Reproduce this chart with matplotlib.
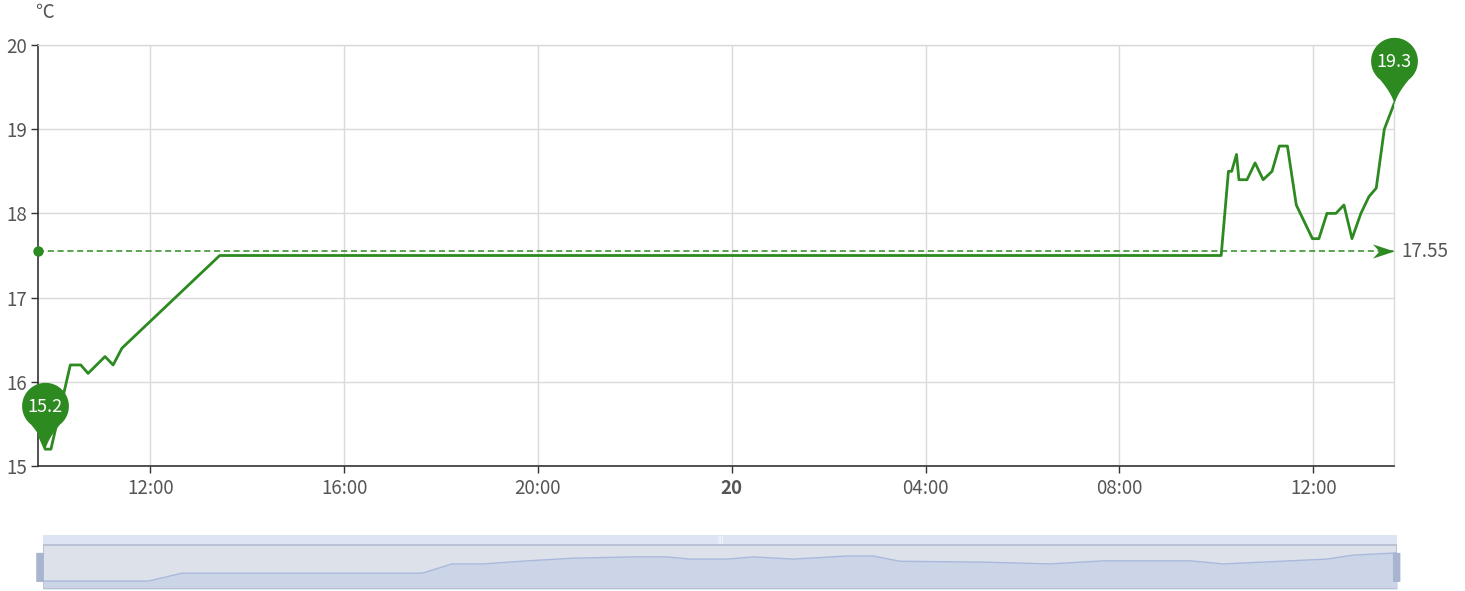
import numpy as np
import matplotlib
matplotlib.use("Agg")
import matplotlib.pyplot as plt
from matplotlib.path import Path
from matplotlib.patches import Rectangle, FancyBboxPatch

plt.rcParams['font.family'] = ['Noto Sans CJK SC', 'DejaVu Sans']

# temperature readings (day 19 -> day 20)
times = ["19 09:41", "19 09:50", "19 09:57", "19 10:21", "19 10:34", "19 10:43",
         "19 11:04", "19 11:14", "19 11:25", "19 13:26", "20 10:06", "20 10:15",
         "20 10:19", "20 10:25", "20 10:28", "20 10:38", "20 10:48", "20 10:58",
         "20 11:09", "20 11:18", "20 11:28", "20 11:39", "20 11:59", "20 12:07",
         "20 12:17", "20 12:28", "20 12:38", "20 12:48", "20 12:59", "20 13:09",
         "20 13:18", "20 13:28", "20 13:40"]
temps = [15.4, 15.2, 15.2, 16.2, 16.2, 16.1,
         16.3, 16.2, 16.4, 17.5, 17.5, 18.5,
         18.5, 18.7, 18.4, 18.4, 18.6, 18.4,
         18.5, 18.8, 18.8, 18.1, 17.7, 17.7,
         18.0, 18.0, 18.1, 17.7, 18.0, 18.2,
         18.3, 19.0, 19.3]
avg_value = 17.55

# overview series shown in the zoom slider (hours since day-19 00:00, relative level)
overview_hours = [9.69, 11.86, 12.56, 17.52, 18.14, 18.78, 19.69, 20.64, 21.88, 22.58,
                  23.06, 23.83, 24.36, 25.19, 26.30, 26.84, 27.40, 29.16, 30.50, 31.60,
                  33.39, 34.08, 36.22, 36.76, 37.67]
overview_level = [0.18, 0.18, 0.36, 0.36, 0.57, 0.57, 0.64, 0.70, 0.73, 0.73,
                  0.68, 0.68, 0.73, 0.68, 0.75, 0.75, 0.63, 0.61, 0.57, 0.64,
                  0.64, 0.57, 0.68, 0.77, 0.82]

tick_hours = [12, 16, 20, 24, 28, 32, 36]
tick_labels = ["12:00", "16:00", "20:00", "20", "04:00", "08:00", "12:00"]


def to_hours(s):
    d, hm = s.split()
    h, m = hm.split(":")
    return (int(d) - 19) * 24 + int(h) + int(m) / 60


hours = np.array([to_hours(t) for t in times])
temps = np.array(temps)

green = '#2d8a20'
gray_txt = '#555555'
fs = 13.5

fig = plt.figure(figsize=(14.65, 5.91), dpi=100)
ax = fig.add_axes([38 / 1465, 1 - 466 / 591, 1356 / 1465, 421 / 591])

ax.plot(hours, temps, color=green, lw=2.0, zorder=3, solid_joinstyle='round')

# average line with start dot and arrow end
ax.plot([hours[0], hours[-1]], [avg_value, avg_value], color=green, lw=1.1,
        linestyle=(0, (4, 2.4)), zorder=2, clip_on=False)
ax.plot(hours[0], avg_value, 'o', color=green, ms=7.5, mew=0, zorder=4, clip_on=False)
arrow = Path(np.array([[0, 0], [-1, 0.33], [-0.7, 0], [-1, -0.33], [0, 0]]), closed=True)
ax.plot(hours[-1], avg_value, marker=arrow, color=green, ms=31, mew=0, zorder=4, clip_on=False)
ax.annotate(f"{avg_value:.2f}", (hours[-1], avg_value), xytext=(5, 0),
            textcoords='offset points', ha='left', va='center', fontsize=fs,
            color=gray_txt, annotation_clip=False)

# pin markers for min / max
theta = np.linspace(np.radians(-52), np.radians(232), 80)
circ = np.c_[np.cos(theta), 1.85 + np.sin(theta)]
s = np.linspace(0, 1, 15)[:, None]
p_left, p_right = circ[-1], circ[0]
ctrl_l, ctrl_r = np.array([-0.1, 0.45]), np.array([0.1, 0.45])
tail_l = (1 - s) ** 2 * p_left + 2 * (1 - s) * s * ctrl_l
tail_r = 2 * (1 - s) * s * ctrl_r + s ** 2 * p_right
pin = Path(np.vstack([circ, tail_l[1:], tail_r[1:]]), closed=True)

for idx in (int(np.argmin(temps)), int(np.argmax(temps))):
    ax.plot(hours[idx], temps[idx], marker=pin, color=green, ms=96, mew=0,
            zorder=5, clip_on=False)
    ax.annotate(f"{temps[idx]:.1f}", (hours[idx], temps[idx]), xytext=(0, 30.5),
                textcoords='offset points', ha='center', va='center',
                fontsize=13, color='white', zorder=6, annotation_clip=False)

ax.set_xlim(hours[0], hours[-1])
ax.set_ylim(15, 20)
ax.set_yticks([15, 16, 17, 18, 19, 20])
ax.set_xticks(tick_hours)
ax.set_xticklabels(tick_labels)
ax.get_xticklabels()[3].set_fontweight('bold')
ax.get_xticklabels()[3].set_color('#333333')

ax.grid(True, color='#dadada', lw=1)
ax.set_axisbelow(True)
for side in ('top', 'right'):
    ax.spines[side].set_color('#dadada')
    ax.spines[side].set_linewidth(1)
for side in ('left', 'bottom'):
    ax.spines[side].set_color('#333333')
    ax.spines[side].set_linewidth(1.2)
ax.tick_params(axis='y', length=5, width=1, color='#333333', labelsize=fs,
               labelcolor=gray_txt, pad=3)
ax.tick_params(axis='x', length=5, width=1, color='#333333', labelsize=fs,
               labelcolor=gray_txt, pad=4)

fig.text(45 / 1465, 1 - 13 / 591, '℃', ha='center', va='center', fontsize=fs, color=gray_txt)

# data zoom slider
sax = fig.add_axes([43 / 1465, 2 / 591, 1354 / 1465, 54 / 591])
sax.set_xlim(hours[0], hours[-1])
sax.set_ylim(0, 54 / 44)
sax.axis('off')
sax.add_patch(Rectangle((hours[0], 1.0), hours[-1] - hours[0], 54 / 44 - 1,
                        facecolor='#dde4f3', edgecolor='none'))
sax.add_patch(Rectangle((hours[0], 0), hours[-1] - hours[0], 1,
                        facecolor='#dde2ea', edgecolor='#b3bccf', lw=1.2))
sax.fill_between(overview_hours, 0, overview_level, color='#ccd4e7', lw=0)
sax.plot(overview_hours, overview_level, color='#a9b8dd', lw=1)
sax.plot([hours[0], hours[-1]], [0, 0], color='#b3bccf', lw=1.2)
for xa in (-0.0025, 0.9995):
    sax.add_patch(FancyBboxPatch((xa - 0.0025, 0.13), 0.0055, 0.54,
                                 boxstyle='round,pad=0,rounding_size=0.003',
                                 transform=sax.transAxes, facecolor='#a8b5cf',
                                 edgecolor='none', clip_on=False, zorder=5))
sax.text(0.5, 1.11, '|||', transform=sax.get_yaxis_transform(),
         ha='center', va='center', fontsize=5, color='white', fontweight='bold')

fig.savefig('out.png', dpi=100)
